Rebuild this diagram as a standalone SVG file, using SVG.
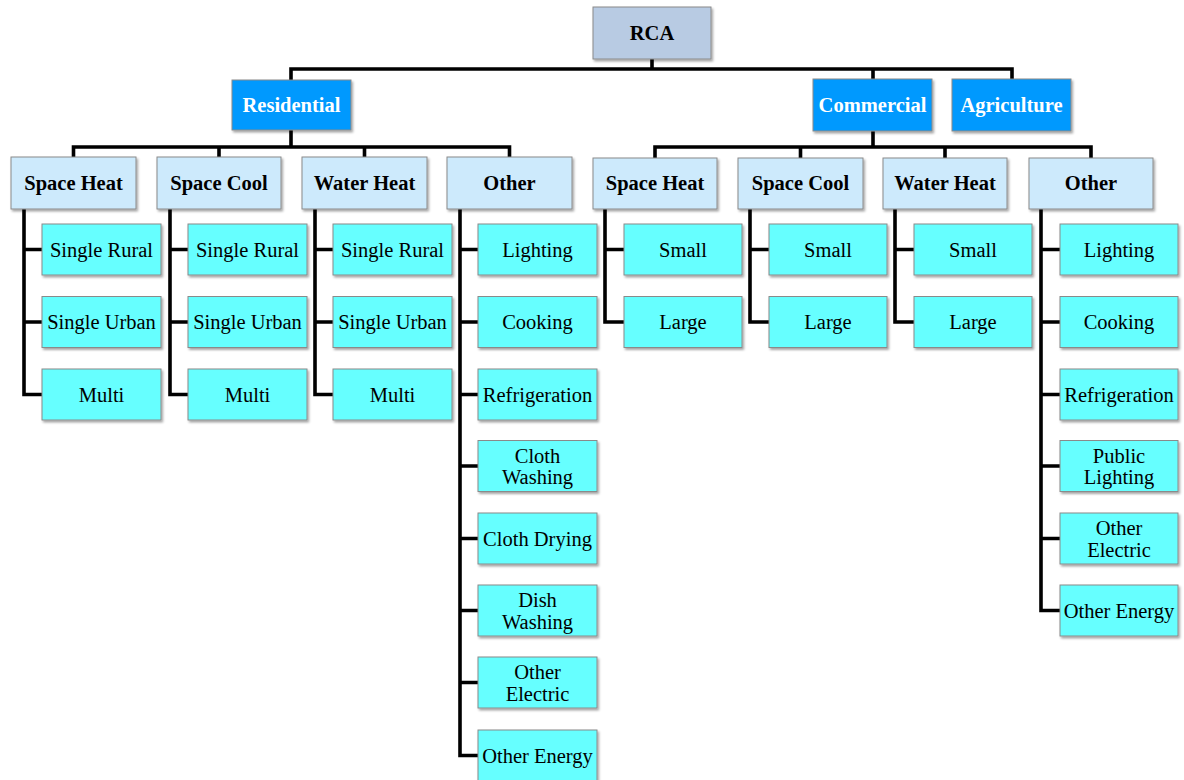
<svg xmlns="http://www.w3.org/2000/svg" width="1184" height="780" viewBox="0 0 1184 780">
<defs>
<filter id="sh" x="-10%" y="-10%" width="130%" height="140%">
<feDropShadow dx="1.5" dy="2" stdDeviation="1.2" flood-color="#000" flood-opacity="0.35"/>
</filter>
<style>
.box rect{stroke:#8a8a8a;stroke-width:1;filter:url(#sh)}
.root rect{fill:#b8cbe3}
.l1 rect{fill:#0099fe}
.l2 rect{fill:#cdeafc}
.lf rect{fill:#66ffff}
text{font-family:"Liberation Serif","Times New Roman",serif;font-size:20.5px;text-anchor:middle;fill:#000}
.b text{font-weight:bold}
.l1 text{fill:#fff;font-weight:bold}
.con{fill:none;stroke:#000;stroke-width:3.6;stroke-linejoin:miter;stroke-linecap:square}
</style>
</defs>
<rect width="1184" height="780" fill="#fff"/>
<g id="connectors" class="con">
<path d="M652,59V69M291,69H1012M291,69V80M873,69V79M1012,69V79"/>
<path d="M291,130V147M73.5,147H509.5M73.5,147V157M219,147V157M364.5,147V157M509.5,147V157"/>
<path d="M873,131V147M655,147H1091M655,147V158M800.5,147V158M945,147V158M1091,147V158"/>
<path d="M24,209V394.5M24,249.5H42M24,322H42M24,394.5H42"/>
<path d="M170,209V394.5M170,249.5H188M170,322H188M170,394.5H188"/>
<path d="M315,209V394.5M315,249.5H333M315,322H333M315,394.5H333"/>
<path d="M460,209V755.5M460,249.5H478M460,322H478M460,394.5H478M460,466H478M460,538.5H478M460,610.5H478M460,682.5H478M460,755.5H478"/>
<path d="M605,209V322M605,249.5H624M605,322H624"/>
<path d="M750,209V322M750,249.5H769M750,322H769"/>
<path d="M895,209V322M895,249.5H914M895,322H914"/>
<path d="M1041,209V610.5M1041,249.5H1060M1041,322H1060M1041,394.5H1060M1041,466H1060M1041,538.5H1060M1041,610.5H1060"/>
</g>
<g id="rca" class="box root b"><rect x="593" y="7" width="118" height="52"/><text x="652" y="40">RCA</text></g>
<g id="residential" class="box l1"><rect x="232" y="80" width="119" height="50"/><text x="291.5" y="112">Residential</text></g>
<g id="commercial" class="box l1"><rect x="813" y="79" width="119" height="52"/><text x="872.5" y="112">Commercial</text></g>
<g id="agriculture" class="box l1"><rect x="952" y="79" width="119" height="52"/><text x="1011.5" y="112">Agriculture</text></g>

<g id="res-spaceheat" class="box l2 b"><rect x="11" y="157" width="125" height="52"/><text x="73.5" y="190">Space Heat</text></g>
<g id="res-spacecool" class="box l2 b"><rect x="157" y="157" width="124" height="52"/><text x="219" y="190">Space Cool</text></g>
<g id="res-waterheat" class="box l2 b"><rect x="302" y="157" width="125" height="52"/><text x="364.5" y="190">Water Heat</text></g>
<g id="res-other" class="box l2 b"><rect x="447" y="157" width="125" height="52"/><text x="509.5" y="190">Other</text></g>
<g id="com-spaceheat" class="box l2 b"><rect x="593" y="158" width="124" height="51"/><text x="655" y="190">Space Heat</text></g>
<g id="com-spacecool" class="box l2 b"><rect x="738" y="158" width="125" height="51"/><text x="800.5" y="190">Space Cool</text></g>
<g id="com-waterheat" class="box l2 b"><rect x="883" y="158" width="124" height="51"/><text x="945" y="190">Water Heat</text></g>
<g id="com-other" class="box l2 b"><rect x="1029" y="158" width="124" height="51"/><text x="1091" y="190">Other</text></g>

<g id="rsh-rural" class="box lf"><rect x="42" y="224" width="119" height="51"/><text x="101.5" y="256.5">Single Rural</text></g>
<g id="rsh-urban" class="box lf"><rect x="42" y="296.5" width="119" height="51"/><text x="101.5" y="329">Single Urban</text></g>
<g id="rsh-multi" class="box lf"><rect x="42" y="369" width="119" height="51"/><text x="101.5" y="401.5">Multi</text></g>
<g id="rsc-rural" class="box lf"><rect x="188" y="224" width="119" height="51"/><text x="247.5" y="256.5">Single Rural</text></g>
<g id="rsc-urban" class="box lf"><rect x="188" y="296.5" width="119" height="51"/><text x="247.5" y="329">Single Urban</text></g>
<g id="rsc-multi" class="box lf"><rect x="188" y="369" width="119" height="51"/><text x="247.5" y="401.5">Multi</text></g>
<g id="rwh-rural" class="box lf"><rect x="333" y="224" width="119" height="51"/><text x="392.5" y="256.5">Single Rural</text></g>
<g id="rwh-urban" class="box lf"><rect x="333" y="296.5" width="119" height="51"/><text x="392.5" y="329">Single Urban</text></g>
<g id="rwh-multi" class="box lf"><rect x="333" y="369" width="119" height="51"/><text x="392.5" y="401.5">Multi</text></g>

<g id="ro-lighting" class="box lf"><rect x="478" y="224" width="119" height="51"/><text x="537.5" y="256.5">Lighting</text></g>
<g id="ro-cooking" class="box lf"><rect x="478" y="296.5" width="119" height="51"/><text x="537.5" y="329">Cooking</text></g>
<g id="ro-refrig" class="box lf"><rect x="478" y="369" width="119" height="51"/><text x="537.5" y="401.5">Refrigeration</text></g>
<g id="ro-clothwash" class="box lf"><rect x="478" y="440.5" width="119" height="51"/><text x="537.5" y="462.5">Cloth</text><text x="537.5" y="484">Washing</text></g>
<g id="ro-clothdry" class="box lf"><rect x="478" y="513" width="119" height="51"/><text x="537.5" y="545.5">Cloth Drying</text></g>
<g id="ro-dishwash" class="box lf"><rect x="478" y="585" width="119" height="51"/><text x="537.5" y="607">Dish</text><text x="537.5" y="628.5">Washing</text></g>
<g id="ro-otherelec" class="box lf"><rect x="478" y="657" width="119" height="51"/><text x="537.5" y="679">Other</text><text x="537.5" y="700.5">Electric</text></g>
<g id="ro-otherenergy" class="box lf"><rect x="478" y="730" width="119" height="51"/><text x="537.5" y="762.5">Other Energy</text></g>

<g id="csh-small" class="box lf"><rect x="624" y="224" width="118" height="51"/><text x="683" y="256.5">Small</text></g>
<g id="csh-large" class="box lf"><rect x="624" y="296.5" width="118" height="51"/><text x="683" y="329">Large</text></g>
<g id="csc-small" class="box lf"><rect x="769" y="224" width="118" height="51"/><text x="828" y="256.5">Small</text></g>
<g id="csc-large" class="box lf"><rect x="769" y="296.5" width="118" height="51"/><text x="828" y="329">Large</text></g>
<g id="cwh-small" class="box lf"><rect x="914" y="224" width="118" height="51"/><text x="973" y="256.5">Small</text></g>
<g id="cwh-large" class="box lf"><rect x="914" y="296.5" width="118" height="51"/><text x="973" y="329">Large</text></g>

<g id="co-lighting" class="box lf"><rect x="1060" y="224" width="118" height="51"/><text x="1119" y="256.5">Lighting</text></g>
<g id="co-cooking" class="box lf"><rect x="1060" y="296.5" width="118" height="51"/><text x="1119" y="329">Cooking</text></g>
<g id="co-refrig" class="box lf"><rect x="1060" y="369" width="118" height="51"/><text x="1119" y="401.5">Refrigeration</text></g>
<g id="co-publiclight" class="box lf"><rect x="1060" y="440.5" width="118" height="51"/><text x="1119" y="462.5">Public</text><text x="1119" y="484">Lighting</text></g>
<g id="co-otherelec" class="box lf"><rect x="1060" y="513" width="118" height="51"/><text x="1119" y="535">Other</text><text x="1119" y="556.5">Electric</text></g>
<g id="co-otherenergy" class="box lf"><rect x="1060" y="585" width="118" height="51"/><text x="1119" y="617.5">Other Energy</text></g>
</svg>
